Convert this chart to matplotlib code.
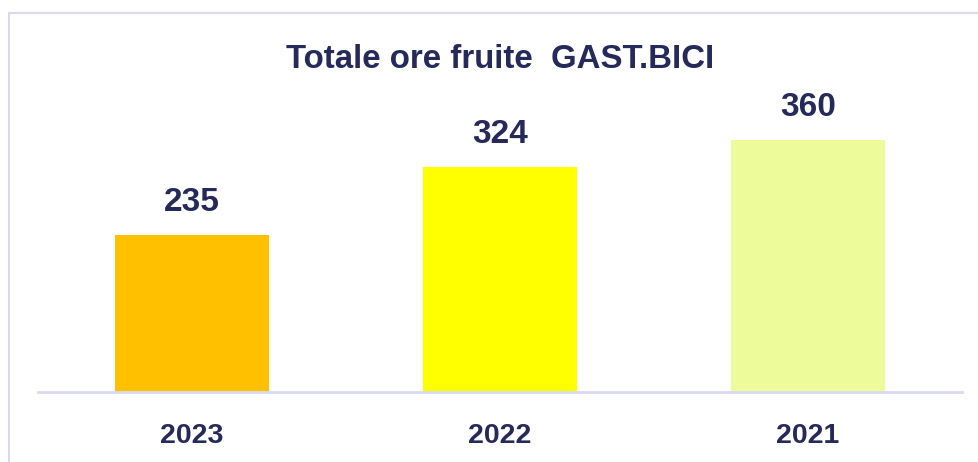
import matplotlib
matplotlib.use("Agg")
import matplotlib.pyplot as plt
from matplotlib.patches import Rectangle

categories = ["2023", "2022", "2021"]
values = [235, 324, 360]
colors = ["#FFC000", "#FFFF00", "#EDFB9A"]
title = "Totale ore fruite  GAST.BICI"

W, H = 979, 462
DPI = 100
plt.rcParams['font.family'] = ['Liberation Sans', 'DejaVu Sans']
txt = "#262A5A"

fig = plt.figure(figsize=(W / DPI, H / DPI), dpi=DPI)
fig.patch.set_facecolor("white")

# outer frame
fig.patches.append(Rectangle((9 / W, -0.1), 1.2, 1 - 13 / H + 0.1,
                             transform=fig.transFigure, fill=False,
                             edgecolor="#D9D9EE", linewidth=1.5, zorder=0))

ax_left, ax_right = 38, 962
ax_bottom, ax_top = 392, 60
ax = fig.add_axes([ax_left / W, 1 - ax_bottom / H,
                   (ax_right - ax_left) / W, (ax_bottom - ax_top) / H])
ax.set_facecolor("none")

x = list(range(len(categories)))
ax.bar(x, values, width=0.5, color=colors, zorder=2)
ax.set_xlim(-0.5, 2.5)
ax.set_ylim(27, 466)

for xi, v in zip(x, values):
    ax.annotate(str(v), (xi, v), xytext=(0, 23.5), textcoords="offset points",
                ha="center", va="center", fontsize=24, fontweight="bold", color=txt)

ax.set_xticks(x)
ax.set_xticklabels(categories, fontsize=20.5, fontweight="bold", color=txt)
ax.tick_params(axis="x", length=0, pad=22)
ax.set_yticks([])
for s in ["top", "right", "left"]:
    ax.spines[s].set_visible(False)
ax.spines["bottom"].set_color("#D9DAF0")
ax.spines["bottom"].set_linewidth(2)

fig.text(500 / W, 1 - 60 / H, title, ha="center", va="center",
         fontsize=23.8, fontweight="bold", color=txt)

fig.savefig("out.png", dpi=DPI)
